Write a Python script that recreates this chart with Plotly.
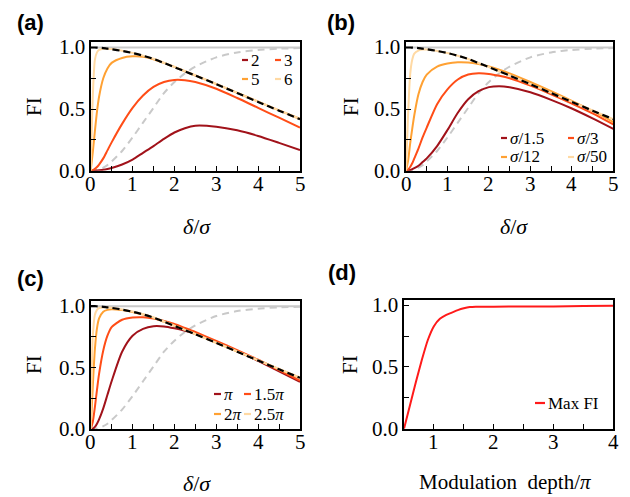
import plotly.graph_objects as go

W, H = 630, 497

# ---------------- data ----------------
delta = [0, 0.05, 0.1, 0.15, 0.2, 0.3, 0.4, 0.5, 0.75, 1, 1.25, 1.5, 1.75, 2,
         2.25, 2.5, 3, 3.5, 4, 4.5, 5]

bound_fi = [1.0, 1.0, 1.0, 0.999, 0.998, 0.995, 0.99, 0.986, 0.972, 0.955, 0.933,
            0.907, 0.874, 0.84, 0.806, 0.772, 0.702, 0.63, 0.558, 0.487, 0.418]
gray_fi = [0, 0, 0.003, 0.006, 0.011, 0.025, 0.045, 0.075, 0.16, 0.27, 0.39,
           0.51, 0.63, 0.72, 0.79, 0.845, 0.92, 0.96, 0.98, 0.99, 0.995]
limit_x = [0, 5]
limit_fi = [1.0, 1.0]

# (a)
a_labels = ["2", "3", "5", "6"]
a_fi_2 = [0, 0, 0.001, 0.002, 0.004, 0.008, 0.014, 0.022, 0.05, 0.09, 0.145,
          0.2, 0.258, 0.31, 0.345, 0.365, 0.357, 0.328, 0.282, 0.226, 0.168]
a_fi_3 = [0, 0.005, 0.015, 0.03, 0.05, 0.1, 0.165, 0.23, 0.38, 0.51, 0.61,
          0.68, 0.72, 0.737, 0.735, 0.72, 0.665, 0.59, 0.51, 0.43, 0.35]
a_fi_5 = [0, 0.15, 0.32, 0.48, 0.6, 0.75, 0.83, 0.875, 0.915, 0.928, 0.925,
          0.905, 0.875, 0.842, 0.807, 0.773, 0.703, 0.632, 0.56, 0.489, 0.42]
a_fi_6 = [0, 0.6, 0.9, 0.96, 0.98, 0.99, 0.99, 0.987, 0.973, 0.956, 0.934,
          0.908, 0.876, 0.842, 0.808, 0.774, 0.704, 0.633, 0.561, 0.49, 0.421]

# (b)
b_labels = ["<i>σ</i>/1.5", "<i>σ</i>/3", "<i>σ</i>/12", "<i>σ</i>/50"]
b_fi_15 = [0, 0.002, 0.006, 0.012, 0.02, 0.04, 0.07, 0.1, 0.2, 0.33, 0.47,
           0.58, 0.645, 0.678, 0.686, 0.677, 0.636, 0.575, 0.505, 0.425, 0.34]
b_fi_3 = [0, 0.01, 0.03, 0.06, 0.1, 0.18, 0.27, 0.35, 0.54, 0.66, 0.74,
          0.78, 0.79, 0.785, 0.77, 0.75, 0.69, 0.62, 0.545, 0.465, 0.375]
b_fi_12 = [0, 0.08, 0.22, 0.34, 0.45, 0.62, 0.72, 0.78, 0.845, 0.87, 0.88,
           0.878, 0.865, 0.845, 0.82, 0.79, 0.72, 0.645, 0.567, 0.485, 0.395]
b_fi_50 = [0, 0.45, 0.78, 0.9, 0.95, 0.975, 0.983, 0.983, 0.972, 0.955, 0.933,
           0.907, 0.874, 0.84, 0.806, 0.772, 0.702, 0.632, 0.56, 0.489, 0.418]

# (c)
c_labels = ["<i>π</i>", "1.5<i>π</i>", "2<i>π</i>", "2.5<i>π</i>"]
c_fi_1 = [0, 0.005, 0.02, 0.045, 0.08, 0.17, 0.28, 0.39, 0.63, 0.76, 0.815,
          0.837, 0.835, 0.82, 0.8, 0.775, 0.71, 0.635, 0.555, 0.47, 0.385]
c_fi_15 = [0, 0.06, 0.18, 0.32, 0.45, 0.64, 0.76, 0.83, 0.89, 0.908, 0.91,
           0.9, 0.88, 0.855, 0.823, 0.79, 0.718, 0.643, 0.565, 0.48, 0.395]
c_fi_2 = [0, 0.35, 0.65, 0.82, 0.9, 0.955, 0.97, 0.975, 0.968, 0.953, 0.932,
          0.906, 0.874, 0.841, 0.807, 0.773, 0.703, 0.632, 0.56, 0.488, 0.418]
c_fi_25 = [0, 0.75, 0.93, 0.97, 0.985, 0.99, 0.99, 0.987, 0.973, 0.956, 0.934,
           0.908, 0.876, 0.842, 0.808, 0.774, 0.704, 0.633, 0.561, 0.49, 0.421]

# (d)
depth = [0.5, 0.6, 0.7, 0.8, 0.9, 1.0, 1.1, 1.2, 1.3, 1.4, 1.5, 1.6, 1.7, 2.0,
         2.5, 3.0, 3.5, 4.0]
max_fi = [0, 0.19, 0.38, 0.56, 0.72, 0.83, 0.89, 0.92, 0.94, 0.96, 0.975,
          0.985, 0.988, 0.988, 0.989, 0.99, 0.993, 0.995]
d_label = "Max FI"

# tick labels
delta_ticks = [0, 1, 2, 3, 4, 5]
depth_ticks = [1, 2, 3, 4]
fi_ticks = [0.0, 0.5, 1.0]
fi_tick_text = ["0.0", "0.5", "1.0"]

colors = ["#a1121a", "#ff4d17", "#ffa133", "#ffd9a3"]
GRAY = "#c9c9c9"

# ---------------- layout geometry (pixels) ----------------
def px(x):
    return x / W

def py(y):
    return 1 - y / H

panels = {
    "a": dict(x0=90.7, x1=300.0, y0=42.3, y1=170.7),
    "b": dict(x0=406.0, x1=613.3, y0=42.3, y1=170.7),
    "c": dict(x0=90.7, x1=300.0, y0=301.0, y1=429.3),
    "d": dict(x0=404.0, x1=613.3, y0=300.0, y1=428.7),
}

fig = go.Figure()

SERIF = "Liberation Serif"
TICK_SIZE = 21

def axis_common():
    return dict(
        showline=True, linecolor="black", linewidth=1.7, mirror=True,
        ticks="inside", ticklen=5, tickwidth=1.2, tickcolor="black",
        showgrid=False, zeroline=False, showticklabels=False,
    )

names = ["a", "b", "c", "d"]
ann = []
shapes = []

for i, k in enumerate(names):
    p = panels[k]
    xa = "xaxis" if i == 0 else f"xaxis{i+1}"
    ya = "yaxis" if i == 0 else f"yaxis{i+1}"
    xs = "x" if i == 0 else f"x{i+1}"
    ys = "y" if i == 0 else f"y{i+1}"
    xr = [0.5, 4] if k == "d" else [0, 5]
    fig.update_layout({
        xa: dict(domain=[px(p["x0"]), px(p["x1"])], range=xr, anchor=ys,
                 dtick=1, tick0=0,
                 minor=dict(dtick=0.5, tick0=0, ticks="inside", ticklen=5,
                            tickwidth=1.2, tickcolor="black"),
                 **axis_common()),
        ya: dict(domain=[py(p["y1"]), py(p["y0"])], range=[0, 1.042], anchor=xs,
                 dtick=0.5, tick0=0,
                 minor=dict(dtick=0.25, tick0=0, ticks="inside", ticklen=5,
                            tickwidth=1.2, tickcolor="black"),
                 **axis_common()),
    })
    # tick labels placed through the axes' own scales
    xt = depth_ticks if k == "d" else delta_ticks
    for t in xt:
        ann.append(dict(x=t, y=0, xref=xs, yref=f"{ys} domain", text=str(t),
                        showarrow=False, xanchor="center", yanchor="middle", yshift=-13,
                        font=dict(family=SERIF, size=TICK_SIZE, color="black")))
    for t, s in zip(fi_ticks, fi_tick_text):
        ann.append(dict(x=0, y=t, xref=f"{xs} domain", yref=ys, text=s,
                        showarrow=False, xanchor="right", yanchor="middle", xshift=-4,
                        font=dict(family=SERIF, size=TICK_SIZE, color="black")))

def add(k, x, y, **line):
    i = names.index(k)
    xs = "x" if i == 0 else f"x{i+1}"
    ys = "y" if i == 0 else f"y{i+1}"
    fig.add_trace(go.Scatter(x=x, y=y, mode="lines", xaxis=xs, yaxis=ys,
                             showlegend=False, hoverinfo="skip", line=line))

panel_series = {
    "a": [a_fi_2, a_fi_3, a_fi_5, a_fi_6],
    "b": [b_fi_15, b_fi_3, b_fi_12, b_fi_50],
    "c": [c_fi_1, c_fi_15, c_fi_2, c_fi_25],
}
for k, series in panel_series.items():
    add(k, limit_x, limit_fi, color=GRAY, width=2)
    add(k, delta, gray_fi, color=GRAY, width=2, dash="7px,5px", shape="spline", smoothing=0.7)
    for s, c in zip(series, colors):
        add(k, delta, s, color=c, width=2, shape="spline", smoothing=0.7)
    add(k, delta, bound_fi, color="black", width=2.2, dash="7px,4px", shape="spline", smoothing=0.7)

add("d", depth, max_fi, color="#ff1a1a", width=2, shape="spline", smoothing=0.6)

# ---------------- annotations / legends ----------------
def text(x, y, s, size, family=SERIF, xanchor="center", angle=0, color="black"):
    ann.append(dict(x=px(x), y=py(y), xref="paper", yref="paper", text=s,
                    showarrow=False, xanchor=xanchor, yanchor="middle", textangle=angle,
                    borderpad=0, font=dict(family=family, size=size, color=color)))

def legend_item(x0, x1, y, color, label):
    shapes.append(dict(type="line", xref="paper", yref="paper", x0=px(x0), x1=px(x1),
                       y0=py(y), y1=py(y), line=dict(color=color, width=2.2)))
    text(x1 + 1.5, y, label, 17, xanchor="left")

SANS = "Liberation Sans"
for lab, (x, y) in zip(["(a)", "(b)", "(c)", "(d)"], [(30, 23), (341, 23), (30, 278), (342, 272)]):
    text(x, y, f"<b>{lab}</b>", 22, family=SANS)

for x, y in [(34, 107), (351, 107), (34, 365), (350, 365)]:
    text(x, y, "FI", 21, angle=-90)

for x, y in [(197, 226), (514, 226), (197, 483)]:
    text(x, y, "<i>δ</i>/<i>σ</i>", 22)
text(505, 482, "Modulation\u00a0\u00a0depth/<i>π</i>", 21)

# legend (a)
legend_item(242, 248, 60, colors[0], a_labels[0])
legend_item(275, 281, 60, colors[1], a_labels[1])
legend_item(242, 248, 79, colors[2], a_labels[2])
legend_item(275, 281, 79, colors[3], a_labels[3])
# legend (b)
legend_item(501, 507, 138, colors[0], b_labels[0])
legend_item(568, 574, 138, colors[1], b_labels[1])
legend_item(501, 507, 157, colors[2], b_labels[2])
legend_item(568, 574, 157, colors[3], b_labels[3])
# legend (c)
legend_item(214, 221, 394, colors[0], c_labels[0])
legend_item(244, 251, 394, colors[1], c_labels[1])
legend_item(214, 221, 414, colors[2], c_labels[2])
legend_item(244, 251, 414, colors[3], c_labels[3])
# legend (d)
legend_item(535, 545, 403, "#ff1a1a", d_label)

fig.update_layout(
    width=W, height=H, margin=dict(l=0, r=0, t=0, b=0),
    paper_bgcolor="white", plot_bgcolor="white",
    font=dict(family=SERIF, color="black"),
    annotations=ann, shapes=shapes, showlegend=False,
)

fig.write_html("out.html", config={"displayModeBar": False},
               post_script="document.body.style.margin='0';document.body.style.overflow='hidden';")
